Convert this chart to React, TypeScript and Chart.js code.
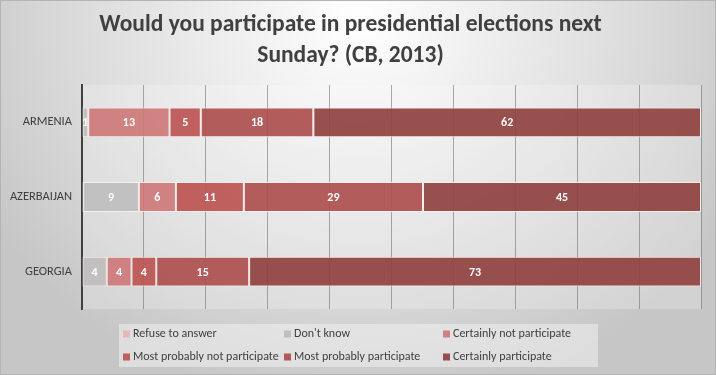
import React, { useEffect, useRef } from "react";
import { Chart, registerables } from "chart.js";

Chart.register(...registerables);

const categories = ["ARMENIA", "AZERBAIJAN", "GEORGIA"];
const seriesNames = [
  "Refuse to answer",
  "Don't know",
  "Certainly not participate",
  "Most probably not participate",
  "Most probably participate",
  "Certainly participate",
];
const refuseToAnswer = [0, 0.2, 0];
const dontKnow = [1, 9, 4];
const certainlyNot = [13, 6, 4];
const probablyNot = [5, 11, 4];
const probablyYes = [18, 29, 15];
const certainlyYes = [62, 45, 73];
const titleLines = ["Would you participate in presidential elections next", "Sunday? (CB, 2013)"];

const seriesValues = [refuseToAnswer, dontKnow, certainlyNot, probablyNot, probablyYes, certainlyYes];
const seriesColors = [
  "rgba(232,182,181,0.92)",
  "rgba(190,190,190,0.92)",
  "rgba(206,120,120,0.92)",
  "rgba(188,84,82,0.92)",
  "rgba(172,80,78,0.92)",
  "rgba(144,66,64,0.92)",
];
const legendColors = ["#e6b9b8", "#bfbfbf", "#d08080", "#c0605e", "#b05a58", "#964f4e"];

const FONT = "Carlito, Calibri, Lato, 'Open Sans', sans-serif";

const totals = categories.map((_, i) => seriesValues.reduce((s, arr) => s + arr[i], 0));

const plotFill = {
  id: "plotFill",
  beforeDraw(chart: any) {
    const { ctx, chartArea: a } = chart;
    ctx.save();
    ctx.fillStyle = "rgba(255,255,255,0.22)";
    ctx.fillRect(a.left, a.top, a.right - a.left, a.bottom - a.top);
    ctx.restore();
  },
};

const barLabels = {
  id: "barLabels",
  afterDatasetsDraw(chart: any) {
    const { ctx } = chart;
    ctx.save();
    ctx.font = `bold 12px ${FONT}`;
    ctx.fillStyle = "#ffffff";
    ctx.textAlign = "center";
    ctx.textBaseline = "middle";
    chart.data.datasets.forEach((ds: any, di: number) => {
      const meta = chart.getDatasetMeta(di);
      meta.data.forEach((el: any, i: number) => {
        const raw = ds.rawValues[i];
        if (raw < 0.5) return;
        const c = el.getCenterPoint();
        ctx.fillText(String(Math.round(raw)), c.x, c.y + 1);
      });
    });
    ctx.restore();
  },
};

const customLegend = {
  id: "customLegend",
  afterDraw(chart: any) {
    const { ctx } = chart;
    const left = 119, top = 324, w = 479, h = 43;
    ctx.save();
    ctx.fillStyle = "rgba(240,240,240,0.55)";
    ctx.fillRect(left, top, w, h);
    const cols = [4, 165, 324];
    const rows = [10, 33];
    ctx.font = `12px ${FONT}`;
    ctx.textBaseline = "middle";
    ctx.textAlign = "left";
    seriesNames.forEach((name, i) => {
      const x = left + cols[i % 3];
      const y = top + rows[Math.floor(i / 3)];
      ctx.fillStyle = legendColors[i];
      ctx.fillRect(x, y - 3.5, 7, 7);
      ctx.fillStyle = "#404040";
      ctx.fillText(name, x + 10, y);
    });
    ctx.restore();
  },
};

export default function App() {
  const ref = useRef<HTMLCanvasElement | null>(null);
  useEffect(() => {
    if (!ref.current) return;
    const chart = new Chart(ref.current, {
      type: "bar",
      data: {
        labels: categories,
        datasets: seriesNames.map((name, di) => ({
          label: name,
          data: seriesValues[di].map((v, i) => (v / totals[i]) * 100),
          rawValues: seriesValues[di],
          backgroundColor: seriesColors[di],
          borderColor: "rgba(255,238,238,0.85)",
          borderWidth: 1,
          borderSkipped: false,
          barPercentage: 0.4,
          categoryPercentage: 1,
        })) as any,
      },
      options: {
        indexAxis: "y",
        animation: false,
        responsive: false,
        layout: { padding: { left: 0, right: 15, top: 0, bottom: 66 } },
        plugins: {
          legend: { display: false },
          tooltip: { enabled: false },
          title: {
            display: true,
            text: titleLines,
            color: "#404040",
            font: { family: FONT, size: 23.5, weight: "bold", lineHeight: 1.32 },
            padding: { top: 10, bottom: 13 },
          },
        },
        scales: {
          x: {
            stacked: true,
            min: 0,
            max: 100,
            ticks: { display: false, stepSize: 10 },
            grid: { color: "rgba(115,115,115,0.6)", lineWidth: 1, drawTicks: false },
            border: { display: false },
            afterFit(s: any) {
              s.height = 0;
            },
          },
          y: {
            stacked: true,
            grid: { display: false },
            border: { color: "#404040", width: 2 },
            ticks: { color: "#404040", font: { family: FONT, size: 12.5 }, padding: 2 },
            afterFit(s: any) {
              s.width = 82;
            },
          },
        },
      } as any,
      plugins: [plotFill, barLabels, customLegend],
    });
    return () => chart.destroy();
  }, []);
  return (
    <div
      style={{
        position: "fixed",
        left: 0,
        top: 0,
        width: 716,
        height: 375,
        background:
          "radial-gradient(ellipse 430px 390px at 358px 20px, #ffffff 0%, #dedede 60%, #c6c6c6 100%)",
        boxShadow: "inset 0 0 0 1px #b4b4b4",
      }}
    >
      <canvas ref={ref} width={716} height={375} style={{ display: "block" }} />
    </div>
  );
}
